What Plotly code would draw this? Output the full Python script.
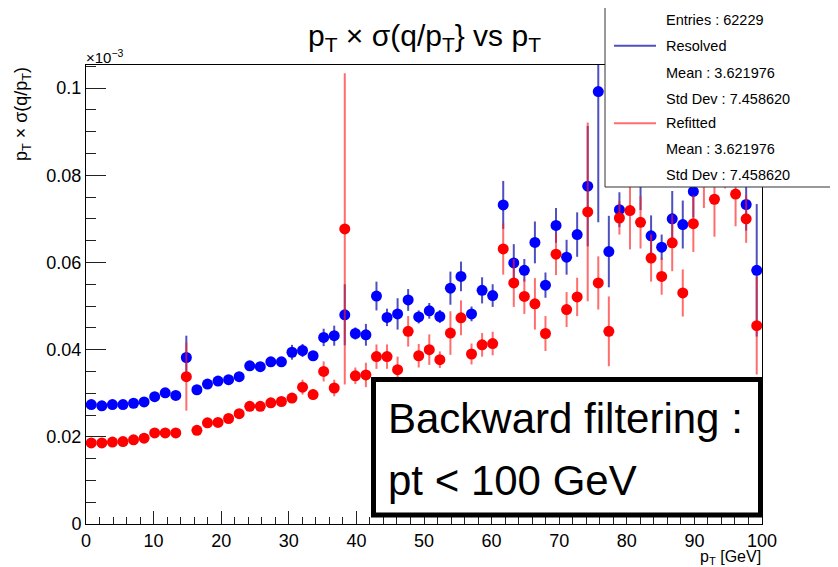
import plotly.graph_objects as go

# ---------------- data ----------------
n_bins = 64
pt_low, pt_high = 0.0, 100.0
bin_width = (pt_high - pt_low) / n_bins
pt_centers = [pt_low + (i + 0.5) * bin_width for i in range(n_bins)]

resolved = [
    0.0274, 0.0271, 0.0274, 0.0274, 0.0277, 0.0280, 0.0292, 0.0301, 0.0295, 0.0382,
    0.0308, 0.0321, 0.0328, 0.0331, 0.0338, 0.0363, 0.0361, 0.0372, 0.0372, 0.0394,
    0.0398, 0.0386, 0.0428, 0.0432, 0.0480, 0.0437, 0.0434, 0.0523, 0.0474, 0.0482,
    0.0514, 0.0475, 0.0489, 0.0476, 0.0541, 0.0568, 0.0482, 0.0536, 0.0524, 0.0732,
    0.0599, 0.0582, 0.0646, 0.0548, 0.0685, 0.0612, 0.0664, 0.0775, 0.0992, 0.0625,
    0.0721, 0.0880, 0.0820, 0.0661, 0.0635, 0.0700, 0.0687, 0.0763, 0.0880, 0.0850,
    0.0850, 0.0880, 0.0733, 0.0582,
]
resolved_err = [
    0.0004, 0.0004, 0.0004, 0.0004, 0.0004, 0.0004, 0.0004, 0.0004, 0.0004, 0.0050,
    0.0005, 0.0006, 0.0006, 0.0006, 0.0006, 0.0008, 0.0008, 0.0008, 0.0008, 0.0017,
    0.0015, 0.0010, 0.0020, 0.0023, 0.0070, 0.0014, 0.0025, 0.0033, 0.0020, 0.0036,
    0.0025, 0.0015, 0.0018, 0.0015, 0.0038, 0.0034, 0.0017, 0.0030, 0.0026, 0.0055,
    0.0043, 0.0026, 0.0048, 0.0029, 0.0040, 0.0040, 0.0051, 0.0138, 0.0300, 0.0082,
    0.0040, 0.0060, 0.0100, 0.0047, 0.0029, 0.0064, 0.0055, 0.0060, 0.0060, 0.0060,
    0.0050, 0.0060, 0.0060, 0.0152,
]
refitted = [
    0.0186, 0.0186, 0.0188, 0.0189, 0.0193, 0.0197, 0.0209, 0.0209, 0.0209, 0.0338,
    0.0215, 0.0232, 0.0233, 0.0242, 0.0253, 0.0270, 0.0270, 0.0278, 0.0281, 0.0289,
    0.0314, 0.0297, 0.0350, 0.0312, 0.0677, 0.0340, 0.0342, 0.0384, 0.0384, 0.0354,
    0.0442, 0.0386, 0.0400, 0.0377, 0.0438, 0.0473, 0.0390, 0.0411, 0.0414, 0.0631,
    0.0553, 0.0522, 0.0505, 0.0437, 0.0619, 0.0492, 0.0521, 0.0716, 0.0553, 0.0442,
    0.0702, 0.0719, 0.0692, 0.0610, 0.0568, 0.0645, 0.0530, 0.0689, 0.0800, 0.0745,
    0.0820, 0.0757, 0.0700, 0.0455,
]
refitted_err = [
    0.0004, 0.0004, 0.0004, 0.0004, 0.0004, 0.0004, 0.0004, 0.0004, 0.0004, 0.0078,
    0.0005, 0.0005, 0.0005, 0.0005, 0.0005, 0.0008, 0.0008, 0.0008, 0.0008, 0.0010,
    0.0017, 0.0012, 0.0023, 0.0019, 0.0357, 0.0019, 0.0028, 0.0028, 0.0028, 0.0030,
    0.0035, 0.0027, 0.0035, 0.0019, 0.0050, 0.0040, 0.0024, 0.0027, 0.0027, 0.0059,
    0.0055, 0.0040, 0.0059, 0.0040, 0.0048, 0.0040, 0.0044, 0.0205, 0.0061, 0.0080,
    0.0038, 0.0089, 0.0060, 0.0054, 0.0042, 0.0065, 0.0054, 0.0065, 0.0075, 0.0086,
    0.0050, 0.0074, 0.0055, 0.0112,
]

x_tick_vals = [0, 10, 20, 30, 40, 50, 60, 70, 80, 90, 100]
y_tick_vals = [0, 0.02, 0.04, 0.06, 0.08, 0.1]
y_tick_text = ["0", "0.02", "0.04", "0.06", "0.08", "0.1"]

stats_lines = [
    "Entries : 62229",
    "Resolved",
    "Mean : 3.621976",
    "Std Dev : 7.458620",
    "Refitted",
    "Mean : 3.621976",
    "Std Dev : 7.458620",
]
note_lines = ["Backward filtering :", "pt &lt; 100 GeV"]

# ---------------- geometry (page pixels; page body has an 8px margin) ----------------
OFF = 8
WIN_W, WIN_H = 838, 567
W, H = WIN_W - OFF, WIN_H - OFF
L, R, T, B = 86, 762, 65, 524          # plot area in page pixels
PW, PH = R - L, B - T


def px(xp):
    return (xp - L) / PW


def py(yp):
    return (B - yp) / PH


BLUE = "#0000ff"
RED = "#ff0000"
BLUE_ERR = "rgba(20,20,170,0.75)"
RED_ERR = "rgba(255,30,30,0.65)"
FONT = "Liberation Sans, Arial, Helvetica, sans-serif"

fig = go.Figure()
fig.add_trace(go.Scatter(
    x=pt_centers, y=resolved, mode="markers", name="Resolved",
    marker=dict(color=BLUE, size=11, symbol="circle"),
    error_y=dict(type="data", array=resolved_err, color=BLUE_ERR, thickness=2, width=0),
    showlegend=False,
))
fig.add_trace(go.Scatter(
    x=pt_centers, y=refitted, mode="markers", name="Refitted",
    marker=dict(color=RED, size=11, symbol="circle"),
    error_y=dict(type="data", array=refitted_err, color=RED_ERR, thickness=2, width=0),
    showlegend=False,
))

fig.update_layout(
    width=W, height=H,
    margin=dict(l=L - OFF, r=WIN_W - R, t=T - OFF, b=WIN_H - B, pad=0),
    paper_bgcolor="white", plot_bgcolor="white",
    font=dict(family=FONT, color="black", size=18),
    showlegend=False,
)
fig.update_xaxes(
    range=[pt_low, pt_high], tickvals=x_tick_vals,
    ticks="inside", ticklen=13, tickwidth=1, tickcolor="#222",
    minor=dict(ticks="inside", ticklen=7, dtick=2, tickcolor="#222", tickwidth=1),
    showline=True, linecolor="black", linewidth=1, mirror=True,
    showgrid=False, zeroline=False,
    tickfont=dict(size=18),
)
fig.update_yaxes(
    range=[0, 0.1053], tickvals=y_tick_vals, ticktext=y_tick_text,
    ticks="inside", ticklen=20, tickwidth=1, tickcolor="#222",
    minor=dict(ticks="inside", ticklen=10, dtick=0.005, tickcolor="#222", tickwidth=1),
    showline=True, linecolor="black", linewidth=1, mirror=True,
    showgrid=False, zeroline=False,
    tickfont=dict(size=18),
)

ann = []
# title
ann.append(dict(
    text="p<sub>T</sub> × σ(q/p<sub>T</sub>} vs p<sub>T</sub>",
    x=px(425), y=py(38), xref="paper", yref="paper",
    xanchor="center", yanchor="middle", showarrow=False,
    font=dict(size=30, family=FONT),
))
# y-axis title
ann.append(dict(
    text="p<sub>T</sub> × σ(q/p<sub>T</sub>)",
    x=px(22), y=1.0, xref="paper", yref="paper",
    xanchor="center", yanchor="top", textangle=-90, showarrow=False,
    font=dict(size=18, family=FONT),
))
# exponent
ann.append(dict(
    text="×10<sup>−3</sup>",
    x=px(84), y=py(56), xref="paper", yref="paper",
    xanchor="left", yanchor="middle", showarrow=False,
    font=dict(size=15, family=FONT),
))
# x-axis title
ann.append(dict(
    text="p<sub>T</sub> [GeV]",
    x=px(763), y=py(557), xref="paper", yref="paper",
    xanchor="right", yanchor="middle", showarrow=False,
    font=dict(size=16, family=FONT),
))

shapes = []
# stats box
shapes.append(dict(
    type="rect", xref="paper", yref="paper",
    x0=px(605), x1=px(835), y0=py(187), y1=py(7),
    line=dict(color="#333", width=1), fillcolor="white", layer="above",
))
stats_y = [20.5, 46, 72.5, 98.5, 123, 149, 175]
for txt, yy in zip(stats_lines, stats_y):
    ann.append(dict(
        text=txt, x=px(664), y=py(yy), xref="paper", yref="paper",
        xanchor="left", yanchor="middle", showarrow=False,
        font=dict(size=14.5, family=FONT),
    ))
shapes.append(dict(type="line", xref="paper", yref="paper",
                   x0=px(614), x1=px(656), y0=py(45.7), y1=py(45.7),
                   line=dict(color=BLUE_ERR, width=2), layer="above"))
shapes.append(dict(type="line", xref="paper", yref="paper",
                   x0=px(614), x1=px(656), y0=py(123.3), y1=py(123.3),
                   line=dict(color=RED_ERR, width=2), layer="above"))

# note box
shapes.append(dict(
    type="rect", xref="paper", yref="paper",
    x0=px(373.5), x1=px(760.5), y0=py(515), y1=py(379.5),
    line=dict(color="black", width=5), fillcolor="white", layer="above",
))
for txt, yy in zip(note_lines, [418, 480]):
    ann.append(dict(
        text=txt, x=px(386), y=py(yy), xref="paper", yref="paper",
        xanchor="left", yanchor="middle", showarrow=False,
        font=dict(size=42, family=FONT),
    ))

fig.update_layout(annotations=ann, shapes=shapes)
fig.write_html("out.html")
